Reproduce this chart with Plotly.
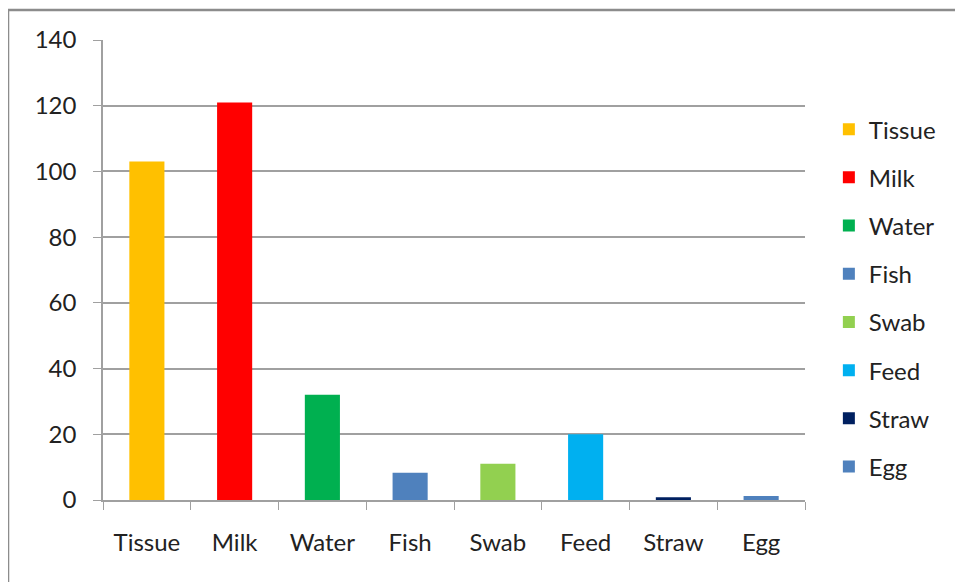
import plotly.graph_objects as go

categories = ["Tissue", "Milk", "Water", "Fish", "Swab", "Feed", "Straw", "Egg"]
values = [103, 121, 32, 8.3, 11, 20, 0.8, 1.2]
colors = ["#FFC000", "#FF0000", "#00B050", "#4F81BD", "#92D050", "#00B0F0", "#002060", "#4F81BD"]
y_ticks = [0, 20, 40, 60, 80, 100, 120, 140]

FONT = "Lato"
TXT = "#222222"
FS = 24

fig = go.Figure()
for i, (c, v, col) in enumerate(zip(categories, values, colors)):
    fig.add_trace(go.Bar(
        x=[c], y=[v], name=c, marker=dict(color=col, line=dict(width=0)),
        width=0.4, legendgroup=c,
    ))

fig.update_layout(
    width=963, height=582,
    margin=dict(l=95, r=166, t=32, b=90),
    paper_bgcolor="white", plot_bgcolor="white",
    barmode="overlay",
    font=dict(family=FONT, size=FS, color=TXT),
    showlegend=True,
    legend=dict(
        x=1.034, y=0.439, xanchor="left", yanchor="middle",
        traceorder="grouped", tracegroupgap=14,
        font=dict(family=FONT, size=FS, color=TXT),
        itemwidth=30,
    ),
    xaxis=dict(
        categoryorder="array", categoryarray=categories,
        showline=True, linecolor="#A0A0A0", linewidth=1.5,
        ticks="outside", tickson="boundaries", ticklen=8, tickcolor="#A0A0A0",
        tickfont=dict(family=FONT, size=FS, color=TXT),
        ticklabelstandoff=20,
        showgrid=False,
    ),
    yaxis=dict(
        range=[0, 140], tickvals=y_ticks,
        showline=True, linecolor="#A0A0A0", linewidth=1.5,
        ticks="outside", ticklen=8, tickcolor="#A0A0A0",
        showgrid=True, gridcolor="#A0A0A0", gridwidth=1.5,
        tickfont=dict(family=FONT, size=FS, color=TXT),
        ticklabelstandoff=12,
        zeroline=False,
    ),
)

# outer chart border (left and top edges visible)
fig.add_shape(type="rect", xref="paper", yref="paper",
              x0=-0.1353, x1=1.235, y0=-0.1957, y1=1.0652,
              line=dict(color="#8C8C8C", width=2.5), fillcolor="rgba(0,0,0,0)",
              layer="below")

fig.write_html("out.html")
